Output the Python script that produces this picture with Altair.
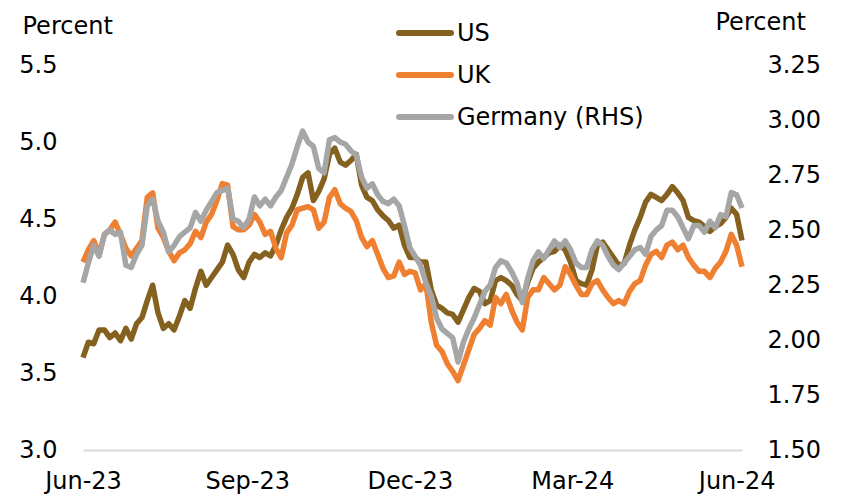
import altair as alt
import pandas as pd

start_date = "2023-06-01"
step_days = 3

us = [3.60, 3.70, 3.69, 3.78, 3.78, 3.73, 3.76, 3.71, 3.79, 3.72,
      3.82, 3.86, 3.97, 4.07, 3.89, 3.79, 3.82, 3.78, 3.87, 3.97,
      3.92, 4.05, 4.16, 4.07, 4.12, 4.17, 4.22, 4.33, 4.27, 4.17,
      4.12, 4.22, 4.27, 4.25, 4.28, 4.26, 4.33, 4.43, 4.51, 4.57,
      4.66, 4.77, 4.80, 4.62, 4.68, 4.76, 4.92, 4.96, 4.87, 4.85,
      4.88, 4.92, 4.72, 4.64, 4.62, 4.56, 4.52, 4.49, 4.44, 4.46,
      4.33, 4.25, 4.25, 4.22, 4.22, 4.04, 3.94, 3.92, 3.89, 3.88,
      3.83, 3.91, 3.99, 4.05, 4.03, 3.95, 3.97, 4.10, 4.12, 4.10,
      4.07, 4.01, 3.97, 4.09, 4.18, 4.22, 4.25, 4.28, 4.29, 4.33,
      4.30, 4.22, 4.10, 4.08, 4.07, 4.17, 4.33, 4.35, 4.30, 4.25,
      4.20, 4.21, 4.33, 4.43, 4.51, 4.61, 4.66, 4.64, 4.62, 4.66,
      4.71, 4.67, 4.62, 4.51, 4.49, 4.48, 4.45, 4.42, 4.45, 4.47,
      4.51, 4.57, 4.53, 4.36]

uk = [4.22, 4.30, 4.36, 4.27, 4.40, 4.43, 4.48, 4.40, 4.31, 4.26,
      4.31, 4.36, 4.64, 4.67, 4.44, 4.38, 4.29, 4.23, 4.28, 4.30,
      4.34, 4.42, 4.38, 4.48, 4.53, 4.62, 4.73, 4.72, 4.45, 4.43,
      4.43, 4.46, 4.53, 4.48, 4.40, 4.42, 4.31, 4.25, 4.41, 4.46,
      4.56, 4.57, 4.58, 4.56, 4.44, 4.48, 4.64, 4.69, 4.60, 4.57,
      4.55, 4.49, 4.38, 4.32, 4.36, 4.27, 4.18, 4.12, 4.13, 4.22,
      4.14, 4.16, 4.15, 4.04, 4.08, 3.83, 3.68, 3.64, 3.56, 3.51,
      3.45, 3.55, 3.65, 3.75, 3.79, 3.84, 3.81, 3.99, 3.95, 4.01,
      3.91, 3.83, 3.78, 3.99, 4.04, 4.04, 4.12, 4.08, 4.04, 4.07,
      4.19, 4.14, 4.07, 4.01, 4.01, 4.08, 4.10, 4.04, 3.99, 3.95,
      3.97, 3.95, 4.03, 4.08, 4.10, 4.20, 4.27, 4.29, 4.25, 4.33,
      4.35, 4.30, 4.33, 4.25, 4.20, 4.16, 4.16, 4.12, 4.18, 4.22,
      4.29, 4.40, 4.33, 4.19]

germany = [2.26, 2.35, 2.43, 2.38, 2.48, 2.50, 2.48, 2.49, 2.34, 2.33,
           2.39, 2.43, 2.61, 2.64, 2.54, 2.49, 2.40, 2.43, 2.47, 2.49,
           2.51, 2.58, 2.54, 2.59, 2.63, 2.67, 2.68, 2.69, 2.55, 2.54,
           2.51, 2.55, 2.65, 2.61, 2.64, 2.61, 2.65, 2.68, 2.74, 2.80,
           2.88, 2.95, 2.90, 2.88, 2.78, 2.76, 2.91, 2.92, 2.90, 2.89,
           2.86, 2.84, 2.74, 2.69, 2.71, 2.66, 2.63, 2.62, 2.64, 2.61,
           2.52, 2.42, 2.38, 2.34, 2.26, 2.20, 2.10, 2.05, 2.03, 2.01,
           1.90, 1.99, 2.05, 2.10, 2.16, 2.22, 2.25, 2.33, 2.36, 2.35,
           2.31, 2.26, 2.17, 2.28, 2.36, 2.40, 2.37, 2.41, 2.45, 2.42,
           2.45, 2.41, 2.35, 2.33, 2.33, 2.41, 2.45, 2.43, 2.38, 2.34,
           2.32, 2.35, 2.38, 2.41, 2.42, 2.39, 2.47, 2.50, 2.52, 2.59,
           2.59, 2.56, 2.51, 2.46, 2.52, 2.52, 2.49, 2.54, 2.51, 2.57,
           2.56, 2.67, 2.66, 2.60]

series_names = ["US", "UK", "Germany (RHS)"]
colors = ["#85611f", "#ef7f31", "#a6a6a6"]
left_ticks = [3.0, 3.5, 4.0, 4.5, 5.0, 5.5]
right_ticks = [1.5, 1.75, 2.0, 2.25, 2.5, 2.75, 3.0, 3.25]
x_ticks = [(2023, 6, 1), (2023, 9, 1), (2023, 12, 1), (2024, 3, 1), (2024, 6, 1)]
x_domain = [(2023, 6, 1), (2024, 6, 4)]

FONT = "DejaVu Sans"
FS = 24

dates = pd.date_range(start_date, periods=len(us), freq=f"{step_days}D")
df = pd.DataFrame({
    "date": list(dates) * 3,
    "series": ["US"] * len(us) + ["UK"] * len(uk) + ["Germany (RHS)"] * len(germany),
    "value": us + uk + germany,
})
df["date"] = df["date"].dt.strftime("%Y-%m-%d")

def dt(t):
    return alt.DateTime(year=t[0], month=t[1], date=t[2])

color = alt.Color("series:N", scale=alt.Scale(domain=series_names, range=colors), legend=None)

x_enc = alt.X(
    "date:T",
    scale=alt.Scale(domain=[dt(t) for t in x_domain]),
    axis=alt.Axis(values=[dt(t) for t in x_ticks], format="%b-%y", title=None,
                  ticks=False, grid=False, labelPadding=19, labelFlush=False,
                  labelOverlap=False, domainColor="#d9d9d9", domainWidth=2),
)

base = alt.Chart(df)

left = base.transform_filter(
    alt.FieldOneOfPredicate(field="series", oneOf=["US", "UK"])
).mark_line(strokeWidth=5.5, strokeJoin="round").encode(
    x=x_enc,
    y=alt.Y("value:Q", scale=alt.Scale(domain=[3.0, 5.5], nice=False, zero=False),
            axis=alt.Axis(values=left_ticks, format=".1f", orient="left", title="Percent",
                          titleAngle=0, titleAlign="left", titleBaseline="middle",
                          titleX=-61, titleY=-39, labelPadding=26, ticks=False,
                          domain=False, grid=False)),
    color=color,
    detail="series:N",
)

right = base.transform_filter(
    alt.FieldEqualPredicate(field="series", equal="Germany (RHS)")
).mark_line(strokeWidth=5.5, strokeJoin="round").encode(
    x=x_enc,
    y=alt.Y("value:Q", scale=alt.Scale(domain=[1.5, 3.25], nice=False, zero=False),
            axis=alt.Axis(values=right_ticks, format=".2f", orient="right", title="Percent",
                          titleAngle=0, titleAlign="left", titleBaseline="middle",
                          titleX=-27, titleY=-43, labelPadding=25, ticks=False,
                          domain=False, grid=False)),
    color=color,
)

legend_df = pd.DataFrame({"series": series_names, "row": [0, 1, 2]})
leg_y = alt.Y("row:Q", scale=alt.Scale(domain=[0, 2], range=[-32, 52], nice=False, zero=False),
              axis=None)
leg_lines = alt.Chart(legend_df).mark_rule(strokeWidth=6, strokeCap="round").encode(
    x=alt.value(316), x2=alt.value(368), y=leg_y, color=color,
)
leg_text = alt.Chart(legend_df).mark_text(
    align="left", baseline="middle", font=FONT, fontSize=FS, color="black", dy=1
).encode(x=alt.value(374), y=leg_y, text="series:N")

legend = alt.layer(leg_lines, leg_text)

chart = alt.layer(left, right, legend).resolve_scale(
    y="independent", color="shared"
).properties(
    width=659, height=385,
    autosize=alt.AutoSizeParams(type="none"),
    padding={"left": 75, "top": 57, "right": 80, "bottom": 48},
).configure_view(stroke=None).configure_axis(
    labelFont=FONT, labelFontSize=FS, labelColor="black",
    titleFont=FONT, titleFontSize=FS, titleColor="black", titleFontWeight="normal",
)

chart.save("out.html", embed_options={"renderer": "svg", "actions": False})
